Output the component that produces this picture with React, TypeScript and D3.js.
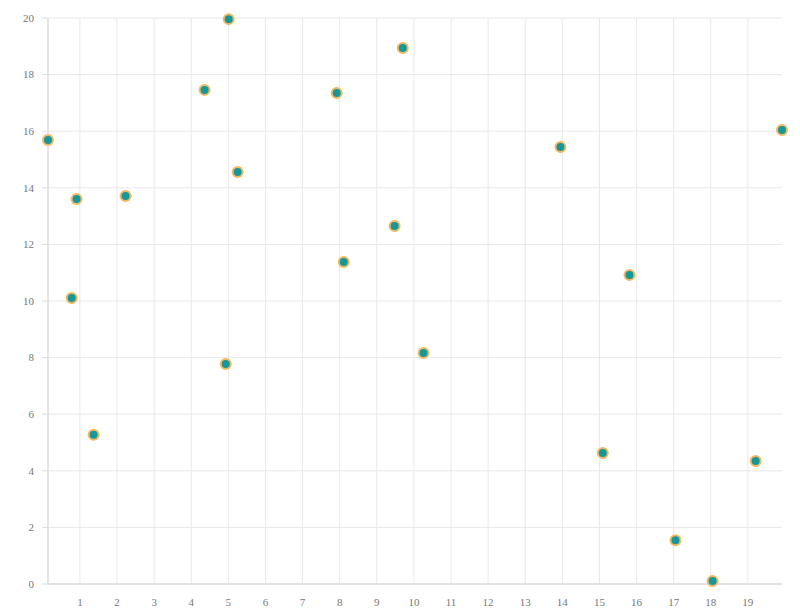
import React, { useEffect, useRef } from "react";
import * as d3 from "d3";

const xValues = [0.14, 0.78, 0.91, 1.37, 2.23, 4.36, 4.93, 5.01, 5.25, 7.92, 8.11, 9.48, 9.7, 10.26, 13.95, 15.09, 15.81, 17.05, 18.05, 19.21, 19.92];
const yValues = [15.69, 10.11, 13.6, 5.27, 13.71, 17.46, 7.77, 19.96, 14.56, 17.35, 11.38, 12.65, 18.94, 8.16, 15.44, 4.63, 10.92, 1.55, 0.11, 4.35, 16.04];
const yDomain = [0, 20];
const yTickValues = [0, 2, 4, 6, 8, 10, 12, 14, 16, 18, 20];

const W = 800;
const H = 616;
const M = { left: 48, right: 18, top: 18, bottom: 32 };

export default function App() {
  const ref = useRef<SVGSVGElement>(null);
  useEffect(() => {
    const svg = d3.select(ref.current);
    svg.selectAll("*").remove();
    const data = xValues.map((x, i) => ({ x, y: yValues[i] }));
    const x = d3.scaleLinear().domain(d3.extent(xValues) as [number, number]).range([M.left, W - M.right]);
    const y = d3.scaleLinear().domain(yDomain).range([H - M.bottom, M.top]);
    const xTicks = x.ticks(20);

    const g = svg.append("g");
    g.append("g")
      .selectAll("line")
      .data(yTickValues)
      .join("line")
      .attr("x1", M.left)
      .attr("x2", W - M.right)
      .attr("y1", (d) => y(d))
      .attr("y2", (d) => y(d))
      .attr("stroke", "#e8e8e8")
      .attr("stroke-width", 1);
    g.append("g")
      .selectAll("line")
      .data(xTicks)
      .join("line")
      .attr("x1", (d) => x(d))
      .attr("x2", (d) => x(d))
      .attr("y1", M.top)
      .attr("y2", H - M.bottom)
      .attr("stroke", "#e8e8e8")
      .attr("stroke-width", 1);

    g.append("line")
      .attr("x1", M.left).attr("x2", M.left)
      .attr("y1", M.top).attr("y2", H - M.bottom)
      .attr("stroke", "#dcdcdc").attr("stroke-width", 1.5);
    g.append("line")
      .attr("x1", M.left).attr("x2", W - M.right)
      .attr("y1", H - M.bottom).attr("y2", H - M.bottom)
      .attr("stroke", "#dcdcdc").attr("stroke-width", 1.5);

    g.append("g")
      .selectAll("line")
      .data(yTickValues)
      .join("line")
      .attr("x1", M.left - 6)
      .attr("x2", M.left)
      .attr("y1", (d) => y(d))
      .attr("y2", (d) => y(d))
      .attr("stroke", "#dcdcdc");
    g.append("g")
      .selectAll("text")
      .data(yTickValues)
      .join("text")
      .attr("x", M.left - 14)
      .attr("y", (d) => y(d))
      .attr("dy", "0.35em")
      .attr("text-anchor", "end")
      .attr("font-family", "Liberation Serif, serif")
      .attr("font-size", 11)
      .attr("fill", "#777")
      .text((d) => d);
    g.append("g")
      .selectAll("text")
      .data(xTicks)
      .join("text")
      .attr("x", (d) => x(d))
      .attr("y", H - M.bottom + 22)
      .attr("text-anchor", "middle")
      .attr("font-family", "Liberation Serif, serif")
      .attr("font-size", 11)
      .attr("fill", "#777")
      .text((d) => d);

    g.append("g")
      .selectAll("circle")
      .data(data)
      .join("circle")
      .attr("cx", (d) => x(d.x))
      .attr("cy", (d) => y(d.y))
      .attr("r", 5)
      .attr("fill", "#16979a")
      .attr("stroke", "#f2b963")
      .attr("stroke-width", 2);
  }, []);
  return (
    <svg ref={ref} width={W} height={H} style={{ position: "absolute", left: 0, top: 0, background: "#fff" }} />
  );
}
